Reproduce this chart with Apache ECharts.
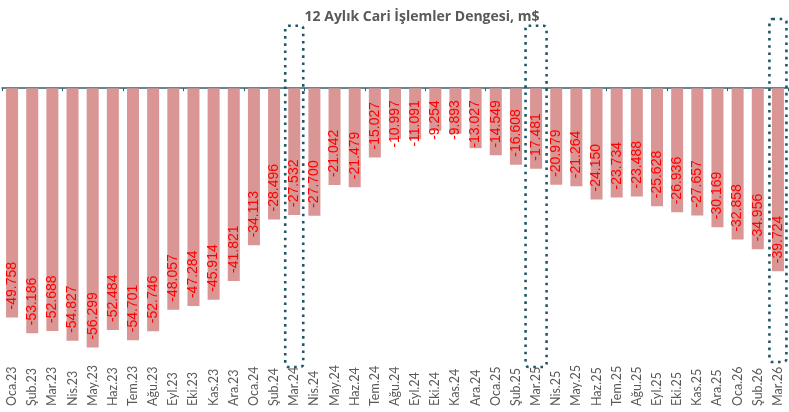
<!DOCTYPE html>
<html>
<head>
<meta charset="utf-8">
<script src="https://cdn.jsdelivr.net/npm/echarts@6/dist/echarts.min.js"></script>
<style>
html,body{margin:0;padding:0;background:#fff;}
#chart{width:789px;height:412px;}
</style>
</head>
<body>
<div id="chart"></div>
<script>
const categories = ['Oca.23','Şub.23','Mar.23','Nis.23','May.23','Haz.23','Tem.23','Ağu.23','Eyl.23','Eki.23','Kas.23','Ara.23',
  'Oca.24','Şub.24','Mar.24','Nis.24','May.24','Haz.24','Tem.24','Ağu.24','Eyl.24','Eki.24','Kas.24','Ara.24',
  'Oca.25','Şub.25','Mar.25','Nis.25','May.25','Haz.25','Tem.25','Ağu.25','Eyl.25','Eki.25','Kas.25','Ara.25',
  'Oca.26','Şub.26','Mar.26'];
const values = [-49.758,-53.186,-52.688,-54.827,-56.299,-52.484,-54.701,-52.746,-48.057,-47.284,-45.914,-41.821,
  -34.113,-28.496,-27.532,-27.700,-21.042,-21.479,-15.027,-10.997,-11.091,-9.254,-9.893,-13.027,
  -14.549,-16.608,-17.481,-20.979,-21.264,-24.150,-23.734,-23.488,-25.628,-26.936,-27.657,-30.169,
  -32.858,-34.956,-39.724];
const highlighted = ['Mar.24','Mar.25','Mar.26'];
const title = '12 Aylık Cari İşlemler Dengesi, m$';

const chart = echarts.init(document.getElementById('chart'));
const labelFmt = p => p.value.toFixed(3);
const seriesData = values.map(v => v > -14.6
  ? {value: v, label: {position: ['50%', 12], align: 'right', verticalAlign: 'middle'}}
  : v);

chart.setOption({
  animation: false,
  title: {
    text: title, left: 417, top: 5, textAlign: 'center',
    textStyle: {fontFamily: 'Open Sans', fontWeight: 'bold', fontSize: 14, color: '#595959'}
  },
  grid: {left: 2, right: 1, top: 25, bottom: 4, containLabel: false},
  xAxis: [
    {
      type: 'category', data: categories, position: 'top',
      axisLine: {onZero: true, lineStyle: {color: '#2f6270', width: 1.5}},
      axisTick: {show: true, inside: true, length: 3, lineStyle: {color: '#2f6270', width: 1}},
      axisLabel: {show: false}, splitLine: {show: false}
    },
    {
      type: 'category', data: categories, position: 'bottom',
      axisLine: {show: false, onZero: false}, axisTick: {show: false},
      axisLabel: {show: true, inside: true, rotate: 90, margin: 2, interval: 0,
        fontFamily: 'Lato', fontSize: 12.5, color: '#595959'},
      splitLine: {show: false}
    }
  ],
  yAxis: {type: 'value', min: -69.4, max: 13.7, show: false, splitLine: {show: false}},
  series: [{
    type: 'bar', xAxisIndex: 0, data: seriesData, barWidth: 12,
    itemStyle: {color: '#d99694'},
    label: {show: true, position: 'insideBottom', distance: 8, rotate: 90, align: 'left', verticalAlign: 'middle',
      formatter: labelFmt, fontFamily: 'Liberation Sans', fontSize: 14, color: '#ff0000'}
  }]
});

// dotted highlight frames around selected months
const frameW = [18, 21, 17];
const frameTop = [25.7, 25.7, 19];
const frameBottom = [367, 367, 362];
const graphics = highlighted.map((c, i) => {
  const cx = chart.convertToPixel({xAxisIndex: 0}, c);
  return {
    type: 'rect',
    shape: {x: cx - frameW[i] / 2, y: frameTop[i], width: frameW[i], height: frameBottom[i] - frameTop[i], r: 3},
    style: {fill: 'none', stroke: '#1f5868', lineWidth: 2.6, lineDash: [2.6, 4.6]},
    z: 100
  };
});
chart.setOption({graphic: graphics});
</script>
</body>
</html>
